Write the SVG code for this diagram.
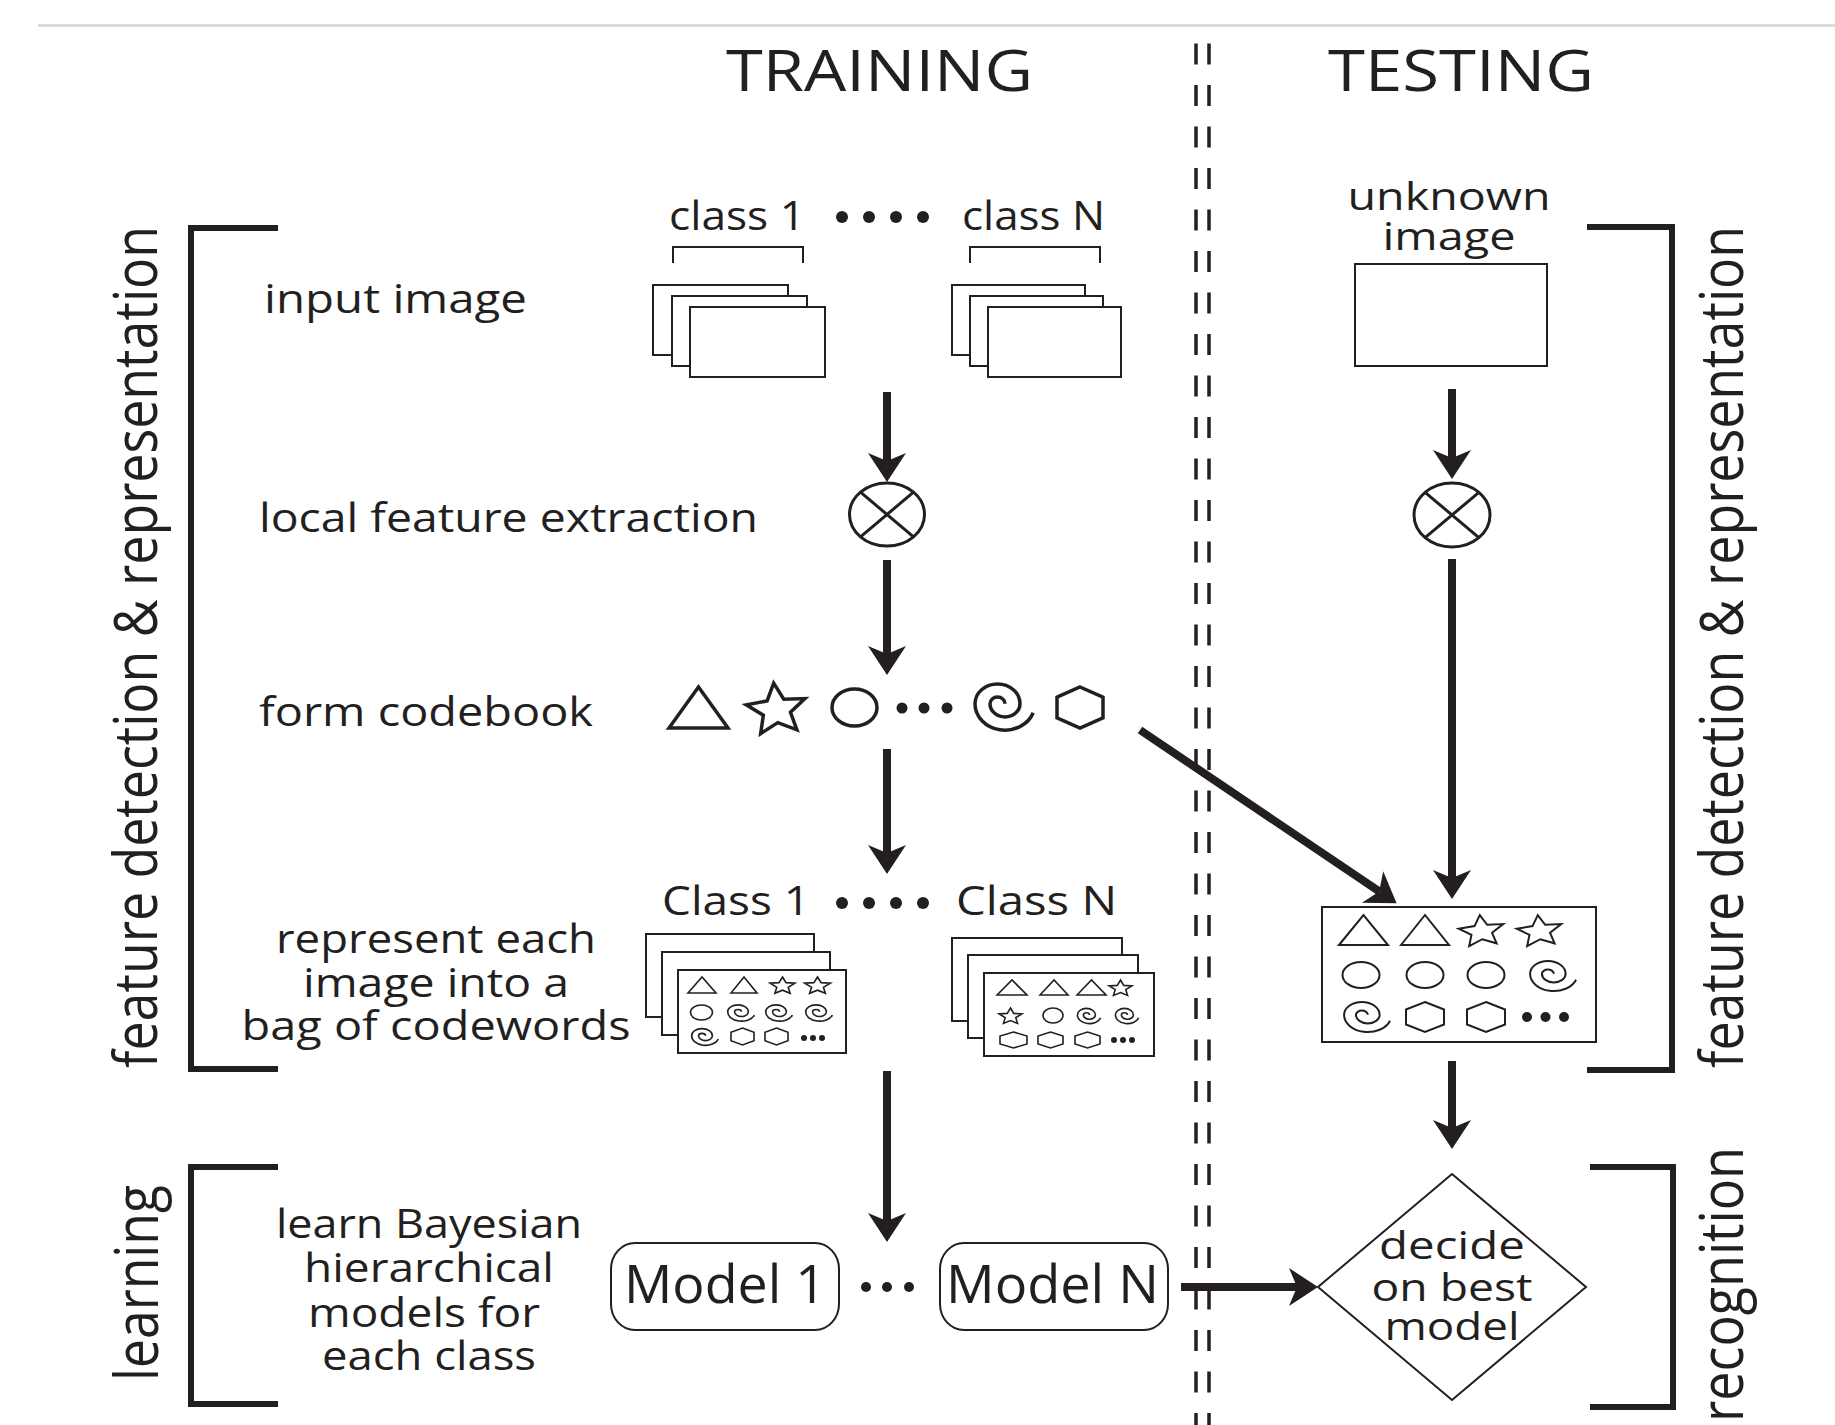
<svg xmlns="http://www.w3.org/2000/svg" xmlns:xlink="http://www.w3.org/1999/xlink" width="1835" height="1425" viewBox="0 0 1835 1425">
<style>
.t{font-family:"Open Sans","Liberation Sans",sans-serif;fill:#231f20;}
.lb{font-size:40px;}
.sm{font-size:38px;}
.hd{font-size:56px;}
.md{font-size:53px;}
.vt{font-size:60px;}
.box{fill:#fff;stroke:#231f20;stroke-width:2;}
.br{fill:none;stroke:#231f20;stroke-width:6;}
.ar{fill:none;stroke:#231f20;stroke-width:8;marker-end:url(#ah);}
.thin{fill:none;stroke:#231f20;stroke-width:2;}
.cw{fill:none;stroke:#231f20;}
.L{stroke-width:3.5;}
.M{stroke-width:2;}
.S{stroke-width:1.6;}
.dot{fill:#231f20;}
.dash{fill:none;stroke:#231f20;stroke-width:3.5;stroke-dasharray:21 20.5;}
</style>
<defs>
<marker id="ah" markerUnits="userSpaceOnUse" markerWidth="40" markerHeight="40" viewBox="-10 -20 32 40" refX="0" refY="0" orient="auto" overflow="visible">
<path d="M21,0 L-8,-19 L0,0 L-8,19 Z" fill="#231f20"/>
</marker>
<path id="tri" d="M-1,1 L0,-1 L1,1 Z" vector-effect="non-scaling-stroke"/>
<path id="star" d="M0,-1 L0.27,-0.37 L0.951,-0.309 L0.44,0.14 L0.588,0.809 L0,0.47 L-0.588,0.809 L-0.44,0.14 L-0.951,-0.309 L-0.27,-0.37 Z" vector-effect="non-scaling-stroke"/>
<circle id="circ" cx="0" cy="0" r="1" vector-effect="non-scaling-stroke"/>
<path id="hex" d="M0,-1 L1,-0.5 L1,0.5 L0,1 L-1,0.5 L-1,-0.5 Z" vector-effect="non-scaling-stroke"/>
<path id="spiral" d="M0.2,-0.75 A1.5,1.5 0 0 0 -2.8,-0.75 A3,3 0 0 0 3.2,-0.75 A4.5,4.5 0 0 0 -5.8,-0.75 A6,6 0 0 0 5.84,1.3" vector-effect="non-scaling-stroke"/>
</defs>
<rect width="1835" height="1425" fill="#fff"/>

<g id="header">
<line x1="38" y1="25.5" x2="1835" y2="25.5" stroke="#d4d4d4" stroke-width="2.5"/>
<text class="t hd" x="726" y="91" textLength="307" lengthAdjust="spacingAndGlyphs">TRAINING</text>
<text class="t hd" x="1328" y="91" textLength="266" lengthAdjust="spacingAndGlyphs">TESTING</text>
</g>

<g id="divider">
<line class="dash" x1="1196" y1="43.5" x2="1196" y2="1425"/>
<line class="dash" x1="1209" y1="43.5" x2="1209" y2="1425"/>
</g>

<g id="bracket-feature-left">
<path class="br" d="M278,228 H191 V1069 H278"/>
<text class="t vt" transform="translate(157,647) rotate(-90)" text-anchor="middle" textLength="842" lengthAdjust="spacingAndGlyphs">feature detection &amp; representation</text>
</g>
<g id="bracket-learning">
<path class="br" d="M278,1167 H191 V1404 H278"/>
<text class="t vt" transform="translate(158,1283) rotate(-90)" text-anchor="middle" textLength="196" lengthAdjust="spacingAndGlyphs">learning</text>
</g>
<g id="bracket-feature-right">
<path class="br" d="M1587,227 H1672 V1070 H1587"/>
<text class="t vt" transform="translate(1743,647) rotate(-90)" text-anchor="middle" textLength="842" lengthAdjust="spacingAndGlyphs">feature detection &amp; representation</text>
</g>
<g id="bracket-recognition">
<path class="br" d="M1590,1167 H1673 V1407 H1590"/>
<text class="t vt" transform="translate(1743,1147) rotate(-90)" text-anchor="end" textLength="275" lengthAdjust="spacingAndGlyphs">recognition</text>
</g>

<g id="step-labels">
<text class="t lb" x="264" y="313" textLength="263" lengthAdjust="spacingAndGlyphs">input image</text>
<text class="t lb" x="259" y="532" textLength="499" lengthAdjust="spacingAndGlyphs">local feature extraction</text>
<text class="t lb" x="259" y="726" textLength="334" lengthAdjust="spacingAndGlyphs">form codebook</text>
<text class="t lb" text-anchor="middle" x="436" y="953" textLength="320" lengthAdjust="spacingAndGlyphs">represent each</text>
<text class="t lb" text-anchor="middle" x="436" y="997" textLength="266" lengthAdjust="spacingAndGlyphs">image into a</text>
<text class="t lb" text-anchor="middle" x="436" y="1040" textLength="389" lengthAdjust="spacingAndGlyphs">bag of codewords</text>
<text class="t lb" text-anchor="middle" x="429" y="1238" textLength="306" lengthAdjust="spacingAndGlyphs">learn Bayesian</text>
<text class="t lb" text-anchor="middle" x="429" y="1282" textLength="250" lengthAdjust="spacingAndGlyphs">hierarchical</text>
<text class="t lb" text-anchor="middle" x="424" y="1327" textLength="232" lengthAdjust="spacingAndGlyphs">models for</text>
<text class="t lb" text-anchor="middle" x="429" y="1370" textLength="214" lengthAdjust="spacingAndGlyphs">each class</text>
</g>

<g id="input-images">
<text class="t lb" x="669" y="230" textLength="136" lengthAdjust="spacingAndGlyphs">class 1</text>
<text class="t lb" x="962" y="230" textLength="143" lengthAdjust="spacingAndGlyphs">class N</text>
<circle class="dot" cx="842" cy="217" r="6"/><circle class="dot" cx="869" cy="217" r="6"/><circle class="dot" cx="896" cy="217" r="6"/><circle class="dot" cx="923" cy="217" r="6"/>
<path class="thin" d="M673,263 V247 H803 V263"/>
<path class="thin" d="M970,263 V247 H1100 V263"/>
<rect class="box" x="653" y="285" width="135" height="70"/>
<rect class="box" x="672" y="296" width="135" height="70"/>
<rect class="box" x="690" y="307" width="135" height="70"/>
<rect class="box" x="952" y="285" width="133" height="70"/>
<rect class="box" x="970" y="296" width="133" height="70"/>
<rect class="box" x="988" y="307" width="133" height="70"/>
</g>

<g id="feature-extraction-train">
<ellipse cx="887" cy="514.5" rx="37.5" ry="31.5" fill="#fff" stroke="#231f20" stroke-width="3"/>
<path d="M860.5,492.2 L913.5,536.8 M913.5,492.2 L860.5,536.8" stroke="#231f20" stroke-width="3"/>
</g>

<g id="codebook">
<use class="cw L" xlink:href="#tri" href="#tri" transform="translate(698.5,707.5) scale(29.5,20.5)"/>
<use class="cw L" xlink:href="#star" href="#star" transform="translate(776.5,710) rotate(-6) scale(31,27)"/>
<use class="cw L" xlink:href="#circ" href="#circ" transform="translate(854.5,707.5) scale(22.5,18.5)"/>
<circle class="dot" cx="902" cy="708" r="5.5"/><circle class="dot" cx="924" cy="708" r="5.5"/><circle class="dot" cx="947" cy="708" r="5.5"/>
<use class="cw L" xlink:href="#spiral" href="#spiral" transform="translate(1004,707) scale(5,4.4)"/>
<use class="cw L" xlink:href="#hex" href="#hex" transform="translate(1080,707.5) scale(23,20.5)"/>
</g>

<g id="bags-train">
<text class="t lb" x="662" y="915" textLength="148" lengthAdjust="spacingAndGlyphs">Class 1</text>
<text class="t lb" x="956" y="915" textLength="161" lengthAdjust="spacingAndGlyphs">Class N</text>
<circle class="dot" cx="842" cy="903" r="6"/><circle class="dot" cx="869" cy="903" r="6"/><circle class="dot" cx="896" cy="903" r="6"/><circle class="dot" cx="923" cy="903" r="6"/>
<rect class="box" x="646" y="934" width="168" height="83"/>
<rect class="box" x="662" y="952" width="168" height="83"/>
<rect class="box" x="678" y="970" width="168" height="83"/>
<use class="cw S" xlink:href="#tri" href="#tri" transform="translate(702,985) scale(14,8)"/>
<use class="cw S" xlink:href="#tri" href="#tri" transform="translate(744,985) scale(13,8)"/>
<use class="cw S" xlink:href="#star" href="#star" transform="translate(782.5,986) scale(13,9)"/>
<use class="cw S" xlink:href="#star" href="#star" transform="translate(817.5,986) scale(13.5,9)"/>
<use class="cw S" xlink:href="#circ" href="#circ" transform="translate(701.5,1012.5) scale(11,7.5)"/>
<use class="cw S" xlink:href="#spiral" href="#spiral" transform="translate(741,1013) scale(2.3,1.55)"/>
<use class="cw S" xlink:href="#spiral" href="#spiral" transform="translate(779,1013) scale(2.3,1.55)"/>
<use class="cw S" xlink:href="#spiral" href="#spiral" transform="translate(819,1013) scale(2.3,1.55)"/>
<use class="cw S" xlink:href="#spiral" href="#spiral" transform="translate(705,1037) scale(2.3,1.6)"/>
<use class="cw S" xlink:href="#hex" href="#hex" transform="translate(742.5,1036.5) scale(11.5,8.5)"/>
<use class="cw S" xlink:href="#hex" href="#hex" transform="translate(776.5,1036.5) scale(11.5,8.5)"/>
<circle class="dot" cx="804" cy="1038" r="3"/><circle class="dot" cx="813" cy="1038" r="3"/><circle class="dot" cx="822" cy="1038" r="3"/>

<rect class="box" x="952" y="938" width="170" height="83"/>
<rect class="box" x="968" y="955" width="170" height="83"/>
<rect class="box" x="984" y="973" width="170" height="83"/>
<use class="cw S" xlink:href="#tri" href="#tri" transform="translate(1012,987.5) scale(15,7.5)"/>
<use class="cw S" xlink:href="#tri" href="#tri" transform="translate(1054,987.5) scale(14,7.5)"/>
<use class="cw S" xlink:href="#tri" href="#tri" transform="translate(1091.5,987.5) scale(14.5,7.5)"/>
<use class="cw S" xlink:href="#star" href="#star" transform="translate(1120.5,988.5) scale(12,8.5)"/>
<use class="cw S" xlink:href="#star" href="#star" transform="translate(1010.5,1016.5) scale(12,8.5)"/>
<use class="cw S" xlink:href="#circ" href="#circ" transform="translate(1053,1015.5) scale(10,7.5)"/>
<use class="cw S" xlink:href="#spiral" href="#spiral" transform="translate(1089,1016) scale(2,1.45)"/>
<use class="cw S" xlink:href="#spiral" href="#spiral" transform="translate(1127,1016) scale(2,1.45)"/>
<use class="cw S" xlink:href="#hex" href="#hex" transform="translate(1013.5,1040) scale(13.5,8)"/>
<use class="cw S" xlink:href="#hex" href="#hex" transform="translate(1050.5,1040) scale(12.5,8)"/>
<use class="cw S" xlink:href="#hex" href="#hex" transform="translate(1087.5,1040) scale(12.5,8)"/>
<circle class="dot" cx="1114" cy="1040" r="3"/><circle class="dot" cx="1123" cy="1040" r="3"/><circle class="dot" cx="1132" cy="1040" r="3"/>
</g>

<g id="models">
<rect class="box" x="611" y="1243" width="228" height="87" rx="24" ry="26"/>
<text class="t md" x="624" y="1303" textLength="202" lengthAdjust="spacingAndGlyphs">Model 1</text>
<circle class="dot" cx="866" cy="1287" r="5"/><circle class="dot" cx="887" cy="1287" r="5"/><circle class="dot" cx="909" cy="1287" r="5"/>
<rect class="box" x="940" y="1243" width="228" height="87" rx="24" ry="26"/>
<text class="t md" x="946" y="1303" textLength="213" lengthAdjust="spacingAndGlyphs">Model N</text>
</g>

<g id="unknown-image">
<text class="t sm" text-anchor="middle" x="1449" y="210" textLength="203" lengthAdjust="spacingAndGlyphs">unknown</text>
<text class="t sm" text-anchor="middle" x="1449" y="250" textLength="133" lengthAdjust="spacingAndGlyphs">image</text>
<rect class="box" x="1355" y="264" width="192" height="102"/>
</g>

<g id="feature-extraction-test">
<ellipse cx="1452" cy="515" rx="38" ry="32" fill="#fff" stroke="#231f20" stroke-width="3"/>
<path d="M1425.1,492.4 L1478.9,537.6 M1478.9,492.4 L1425.1,537.6" stroke="#231f20" stroke-width="3"/>
</g>

<g id="bag-test">
<rect class="box" x="1322" y="907" width="274" height="135"/>
<use class="cw M" xlink:href="#tri" href="#tri" transform="translate(1363.5,930) scale(24.5,15)"/>
<use class="cw M" xlink:href="#tri" href="#tri" transform="translate(1425,930) scale(24,15)"/>
<use class="cw M" xlink:href="#star" href="#star" transform="translate(1481.5,931.5) rotate(-6) scale(23.5,16.5)"/>
<use class="cw M" xlink:href="#star" href="#star" transform="translate(1539.5,931.5) rotate(-6) scale(23.5,16.5)"/>
<use class="cw M" xlink:href="#circ" href="#circ" transform="translate(1361,975) scale(18.5,13)"/>
<use class="cw M" xlink:href="#circ" href="#circ" transform="translate(1425,975) scale(18.5,13)"/>
<use class="cw M" xlink:href="#circ" href="#circ" transform="translate(1486,975) scale(18.5,13)"/>
<use class="cw M" xlink:href="#spiral" href="#spiral" transform="translate(1553,976) scale(3.95,2.86)"/>
<use class="cw M" xlink:href="#spiral" href="#spiral" transform="translate(1367,1017) scale(3.95,2.86)"/>
<use class="cw M" xlink:href="#hex" href="#hex" transform="translate(1425,1017) scale(19,15)"/>
<use class="cw M" xlink:href="#hex" href="#hex" transform="translate(1486,1017) scale(19,15)"/>
<circle class="dot" cx="1527" cy="1017" r="5"/><circle class="dot" cx="1545.5" cy="1017" r="5"/><circle class="dot" cx="1564" cy="1017" r="5"/>
</g>

<g id="decide">
<path d="M1452,1174 L1586,1287 L1452,1400 L1318,1287 Z" fill="#fff" stroke="#231f20" stroke-width="2"/>
<text class="t sm" text-anchor="middle" x="1452" y="1259" textLength="146" lengthAdjust="spacingAndGlyphs">decide</text>
<text class="t sm" text-anchor="middle" x="1452" y="1301" textLength="161" lengthAdjust="spacingAndGlyphs">on best</text>
<text class="t sm" text-anchor="middle" x="1452" y="1340" textLength="135" lengthAdjust="spacingAndGlyphs">model</text>
</g>

<g id="connectors">
<line class="ar" x1="887" y1="392" x2="887" y2="461"/>
<line class="ar" x1="887" y1="560" x2="887" y2="654"/>
<line class="ar" x1="887" y1="749" x2="887" y2="853"/>
<line class="ar" x1="887" y1="1071" x2="887" y2="1221"/>
<line class="ar" x1="1452" y1="389" x2="1452" y2="458"/>
<line class="ar" x1="1452" y1="559" x2="1452" y2="878"/>
<line class="ar" x1="1452" y1="1061" x2="1452" y2="1128"/>
<line class="ar" x1="1140" y1="730" x2="1379.2" y2="891.4"/>
<line class="ar" x1="1181" y1="1287" x2="1297" y2="1287"/>
</g>
</svg>
